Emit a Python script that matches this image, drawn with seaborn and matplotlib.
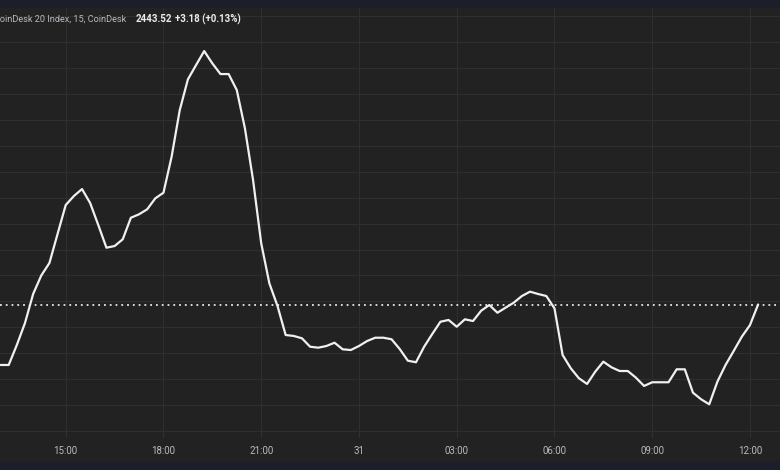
import matplotlib
matplotlib.use("Agg")
import matplotlib.pyplot as plt
from matplotlib.patches import Rectangle
import numpy as np
import pandas as pd
import seaborn as sns

# ---- data (15-minute closes, CoinDesk 20 Index) ----
start_time = "2024-10-30 13:00"
close = [
    2434.18, 2434.18, 2437.27, 2440.66, 2445.14, 2448.00, 2449.93, 2454.41,
    2458.88, 2460.27, 2461.35, 2459.19, 2455.79, 2452.29, 2452.55, 2453.59,
    2456.92, 2457.45, 2458.22, 2459.92, 2460.78, 2466.34, 2473.55, 2478.29,
    2480.50, 2482.66, 2480.76, 2479.11, 2479.11, 2476.64, 2470.73, 2462.74,
    2452.97, 2446.79, 2443.29, 2438.81, 2438.66, 2438.30, 2437.00, 2436.85,
    2437.11, 2437.62, 2436.60, 2436.49, 2437.11, 2437.88, 2438.39, 2438.39,
    2438.15, 2436.65, 2434.84, 2434.60, 2437.00, 2438.97, 2440.86, 2441.13,
    2440.09, 2441.23, 2440.97, 2442.56, 2443.44, 2442.25, 2443.03, 2443.80,
    2444.83, 2445.50, 2445.14, 2444.83, 2442.93, 2435.72, 2433.67, 2432.13,
    2431.25, 2433.14, 2434.69, 2433.82, 2433.25, 2433.25, 2432.22, 2430.94,
    2431.51, 2431.51, 2431.51, 2433.51, 2433.51, 2429.90, 2428.88, 2428.11,
    2431.60, 2434.18, 2436.34, 2438.55, 2440.34, 2443.52,
]
last_price = 2443.52
change_text = "+3.18 (+0.13%)"
title_text = "CoinDesk 20 Index, 15, CoinDesk"
tick_times = ["2024-10-30 15:00", "2024-10-30 18:00", "2024-10-30 21:00",
              "2024-10-31 00:00", "2024-10-31 03:00", "2024-10-31 06:00",
              "2024-10-31 09:00", "2024-10-31 12:00"]
tick_labels = ["15:00", "18:00", "21:00", "31", "03:00", "06:00", "09:00", "12:00"]

df = pd.DataFrame({
    "time": pd.date_range(start_time, periods=len(close), freq="15min"),
    "close": close,
})

# ---- style ----
BG = "#222222"
BAND = "#1c1f29"
GRID = "#2f2f2f"
TXT = "#b8bac0"

sns.set_theme(style="dark")
plt.rcParams["font.family"] = ["Roboto", "DejaVu Sans"]

W, H = 780, 470
fig = plt.figure(figsize=(W / 100, H / 100), dpi=100, facecolor=BG)
ax_top, ax_bot = 8, 438
ax = fig.add_axes([0, (H - ax_bot) / H, 1, (ax_bot - ax_top) / H])
ax.set_facecolor(BG)

sns.lineplot(data=df, x="time", y="close", ax=ax, color="#f0f0f0",
             linewidth=1.6, zorder=3)

ax.axhline(last_price, color="#e8e8e8", linewidth=1.3,
           linestyle=(0, (1, 2.2)), zorder=2)

# x range: ~8.146 px per 15-min bar
px_per_bar = 8.146
x_left = pd.Timestamp(start_time) - pd.Timedelta(minutes=1)
x_right = x_left + pd.Timedelta(minutes=15 * W / px_per_bar)
ax.set_xlim(x_left, x_right)

# y range so that 4 units = ~25.9 px
units_per_px = 4 / 25.9
ax.set_ylim(last_price - (ax_bot - 304.5) * units_per_px,
            last_price + (304.5 - ax_top) * units_per_px)

ax.set_xticks(pd.to_datetime(tick_times))
ax.set_xticklabels(tick_labels)
ax.yaxis.set_major_locator(matplotlib.ticker.MultipleLocator(4))
ax.set_yticklabels([])
ax.tick_params(axis="x", length=0, pad=5.5, labelsize=7, colors=TXT)
ax.tick_params(axis="y", length=0)
ax.grid(True, color=GRID, linewidth=0.8)
ax.set_axisbelow(True)
for s in ax.spines.values():
    s.set_visible(False)
ax.set_xlabel("")
ax.set_ylabel("")

# top/bottom bands
fig.patches.append(Rectangle((0, (H - 8) / H), 1, 8 / H, transform=fig.transFigure,
                             facecolor=BAND, edgecolor="none", zorder=0))
fig.patches.append(Rectangle((0, 0), 1, 8 / H, transform=fig.transFigure,
                             facecolor=BAND, edgecolor="none", zorder=0))

# header (the first letter is cut by the left edge, as in the source view)
ty = (H - 19) / H
fig.text(-6.0 / W, ty, title_text, color=TXT, fontsize=6.6, va="center", ha="left")
fig.text(136 / W, ty, f"{last_price:.2f}", color="#ececec", fontsize=7,
         fontweight="bold", va="center", ha="left")
fig.text(175 / W, ty, change_text, color="#ececec", fontsize=7,
         fontweight="bold", va="center", ha="left")

fig.savefig("out.png", dpi=100, facecolor=BG)
